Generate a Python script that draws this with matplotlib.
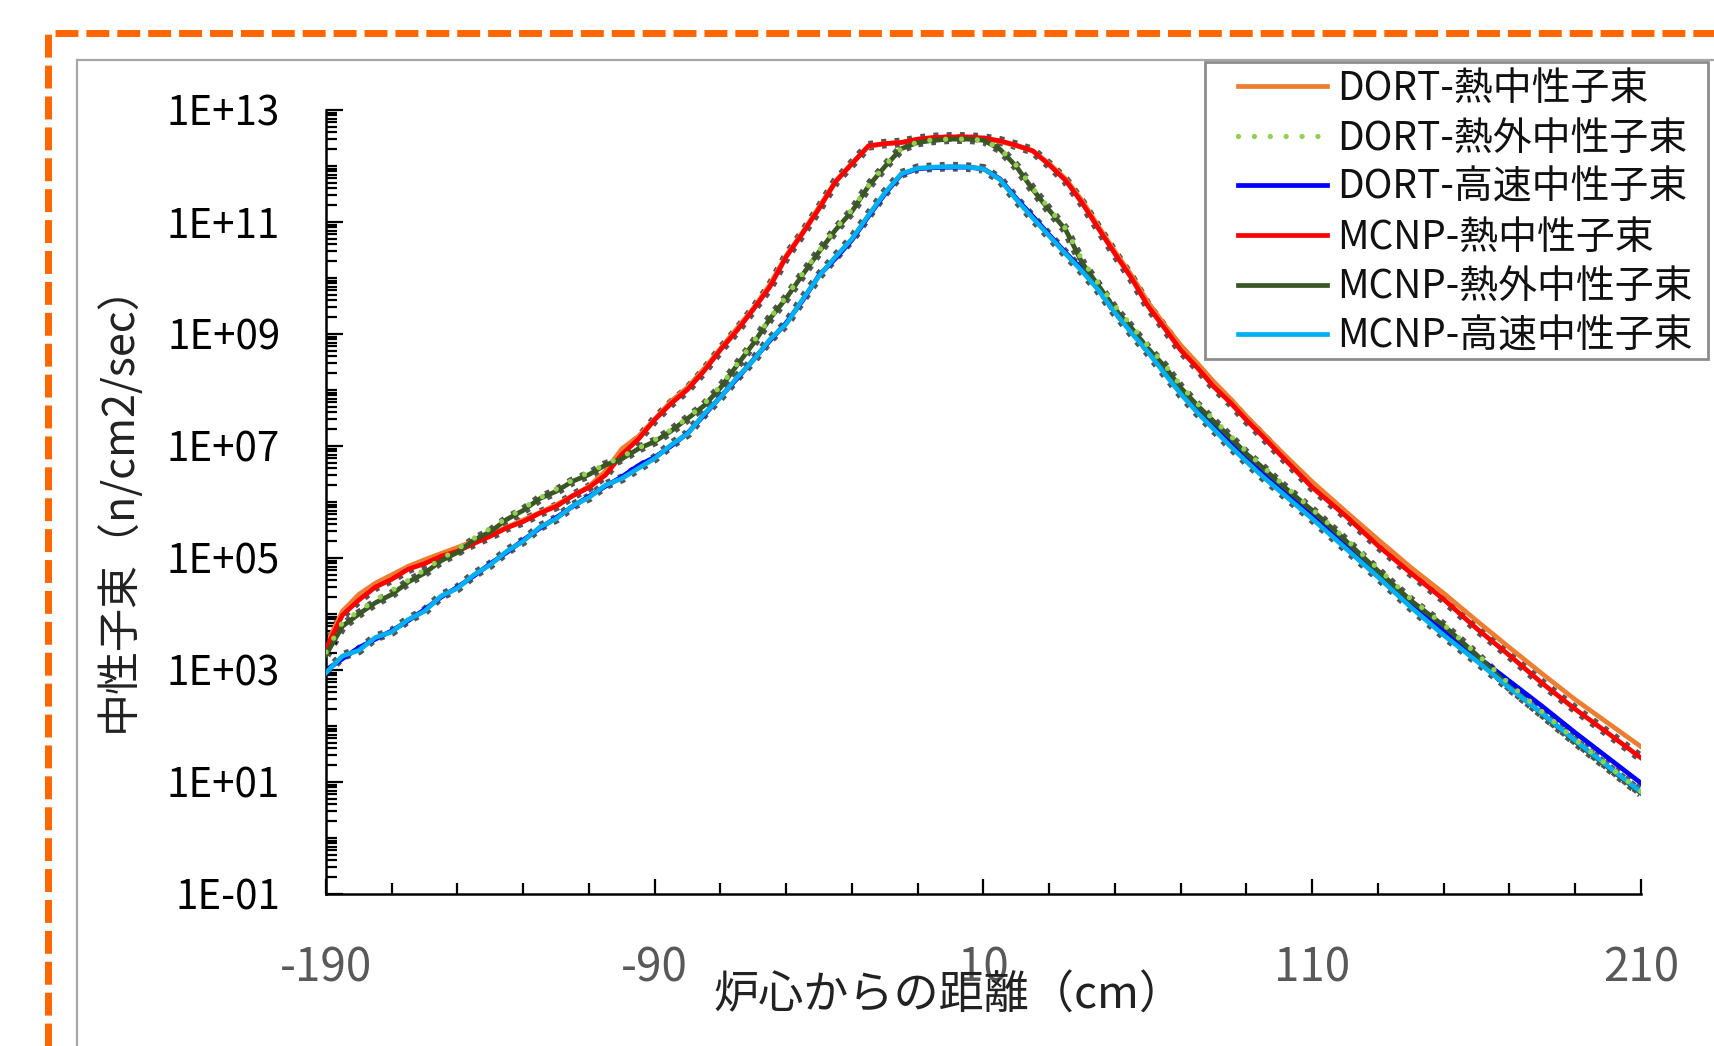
import numpy as np
import matplotlib
matplotlib.use("Agg")
import matplotlib.pyplot as plt
from matplotlib.lines import Line2D
from matplotlib.patches import Rectangle
from matplotlib.ticker import FixedLocator, LogLocator, NullFormatter

plt.rcParams['font.family'] = ['Noto Sans CJK JP', 'DejaVu Sans']
plt.rcParams['axes.unicode_minus'] = False

# distance from core centre (cm)
pos_cm = [-190, -185, -180, -175, -170, -165, -160, -155, -150, -145, -140, -135, -130, -125,
          -120, -115, -110, -105, -100, -95, -90, -85, -80, -75, -70, -65, -60, -55, -50, -45,
          -40, -35, -30, -25, -20, -15, -10, -5, 0, 5, 10, 15, 20, 25, 30, 35, 40, 45, 50, 55,
          60, 65, 70, 75, 80, 85, 90, 95, 100, 110, 120, 130, 140, 150, 160, 170, 180, 190, 200, 210]

# log10 of neutron flux (n/cm2/sec)
dort_thermal = [3.45, 4.05, 4.35, 4.55, 4.70, 4.85, 4.97, 5.08, 5.19, 5.30, 5.42, 5.55, 5.68, 5.81,
                5.95, 6.11, 6.28, 6.55, 6.95, 7.17, 7.48, 7.80, 8.05, 8.38, 8.74, 9.10, 9.46, 9.88, 10.40, 10.82,
                11.27, 11.73, 12.05, 12.35, 12.40, 12.42, 12.47, 12.50, 12.50, 12.50, 12.48, 12.44, 12.36, 12.27, 12.04, 11.77, 11.38, 10.92, 10.47, 10.05,
                9.57, 9.17, 8.80, 8.48, 8.15, 7.85, 7.53, 7.23, 6.93, 6.36, 5.84, 5.33, 4.83, 4.37, 3.88, 3.40, 2.93, 2.47, 2.05, 1.63]
dort_epi = [3.32, 3.85, 4.05, 4.25, 4.42, 4.60, 4.79, 4.98, 5.16, 5.35, 5.53, 5.71, 5.89, 6.07,
            6.23, 6.39, 6.53, 6.67, 6.81, 6.96, 7.11, 7.29, 7.50, 7.75, 8.07, 8.46, 8.86, 9.28, 9.67, 10.08,
            10.49, 10.88, 11.22, 11.65, 12.01, 12.31, 12.43, 12.47, 12.48, 12.48, 12.46, 12.31, 12.01, 11.60, 11.24, 10.88, 10.32, 9.90, 9.50, 9.15,
            8.79, 8.46, 8.08, 7.76, 7.47, 7.19, 6.90, 6.63, 6.37, 5.87, 5.35, 4.81, 4.27, 3.81, 3.29, 2.75, 2.25, 1.76, 1.29, 0.83]
dort_fast = [3.00, 3.20, 3.40, 3.55, 3.70, 3.88, 4.08, 4.30, 4.48, 4.68, 4.90, 5.10, 5.32, 5.53,
             5.72, 5.92, 6.10, 6.28, 6.45, 6.65, 6.80, 7.00, 7.23, 7.55, 7.88, 8.20, 8.54, 8.88, 9.20, 9.60,
             10.05, 10.35, 10.68, 11.10, 11.50, 11.85, 11.95, 11.97, 11.98, 11.98, 11.95, 11.77, 11.42, 11.10, 10.77, 10.45, 10.15, 9.80, 9.40, 9.05,
             8.72, 8.35, 7.97, 7.65, 7.35, 7.05, 6.77, 6.50, 6.25, 5.75, 5.25, 4.70, 4.17, 3.70, 3.25, 2.80, 2.35, 1.88, 1.43, 0.98]
mcnp_thermal = [3.38, 3.98, 4.25, 4.48, 4.62, 4.80, 4.90, 5.03, 5.12, 5.26, 5.39, 5.54, 5.65, 5.80,
                5.92, 6.11, 6.26, 6.48, 6.85, 7.12, 7.47, 7.76, 8.01, 8.34, 8.72, 9.06, 9.44, 9.84, 10.38, 10.80,
                11.24, 11.72, 12.04, 12.36, 12.40, 12.42, 12.48, 12.51, 12.52, 12.52, 12.50, 12.45, 12.37, 12.27, 12.02, 11.74, 11.34, 10.88, 10.43, 10.00,
                9.50, 9.11, 8.71, 8.40, 8.06, 7.78, 7.46, 7.17, 6.86, 6.26, 5.76, 5.22, 4.73, 4.26, 3.74, 3.26, 2.76, 2.30, 1.87, 1.43]
mcnp_epi = [3.27, 3.78, 4.00, 4.20, 4.35, 4.57, 4.73, 4.95, 5.10, 5.32, 5.47, 5.69, 5.85, 6.06,
            6.19, 6.37, 6.49, 6.66, 6.77, 6.95, 7.08, 7.27, 7.49, 7.72, 8.04, 8.44, 8.83, 9.27, 9.64, 10.06,
            10.47, 10.86, 11.19, 11.64, 11.99, 12.31, 12.42, 12.46, 12.48, 12.48, 12.46, 12.30, 11.99, 11.58, 11.21, 10.86, 10.27, 9.86, 9.44, 9.11,
            8.74, 8.43, 8.04, 7.73, 7.44, 7.16, 6.86, 6.61, 6.34, 5.85, 5.32, 4.77, 4.24, 3.79, 3.27, 2.70, 2.21, 1.72, 1.26, 0.80]
mcnp_fast = [2.95, 3.25, 3.35, 3.58, 3.68, 3.90, 4.05, 4.32, 4.46, 4.70, 4.88, 5.12, 5.30, 5.55,
             5.70, 5.93, 6.08, 6.30, 6.42, 6.60, 6.78, 7.02, 7.22, 7.57, 7.87, 8.22, 8.53, 8.90, 9.18, 9.62,
             10.04, 10.38, 10.70, 11.12, 11.52, 11.86, 11.96, 11.98, 11.99, 11.98, 11.95, 11.76, 11.40, 11.07, 10.75, 10.43, 10.12, 9.78, 9.38, 9.02,
             8.68, 8.30, 7.93, 7.60, 7.30, 7.00, 6.72, 6.45, 6.20, 5.70, 5.18, 4.66, 4.12, 3.62, 3.16, 2.68, 2.22, 1.74, 1.28, 0.82]

labels = ["DORT-熱中性子束", "DORT-熱外中性子束", "DORT-高速中性子束",
          "MCNP-熱中性子束", "MCNP-熱外中性子束", "MCNP-高速中性子束"]
x_ticks = [-190, -90, 10, 110, 210]
y_ticks = [1e-1, 1e1, 1e3, 1e5, 1e7, 1e9, 1e11, 1e13]
y_ticklabels = ["1E-01", "1E+01", "1E+03", "1E+05", "1E+07", "1E+09", "1E+11", "1E+13"]

W, H = 1715, 1046
fig = plt.figure(figsize=(W / 100, H / 100), dpi=100)
ax = fig.add_axes([326 / W, 1 - 894 / H, (1641 - 326) / W, (894 - 110) / H])

x = np.array(pos_cm)
def f(v):
    return 10 ** np.array(v)

# grey error-bar like marks under MCNP lines
for s in (mcnp_thermal, mcnp_epi, mcnp_fast):
    ax.plot(x, f(s), color='#555555', lw=7, linestyle=(0, (0.5, 0.85)), zorder=1, label='_nolegend_')

l1, = ax.plot(x, f(dort_thermal), color='#ED7D31', lw=3.4, zorder=2)
l3, = ax.plot(x, f(dort_fast), color='#0000FF', lw=3.4, zorder=2)
l4, = ax.plot(x, f(mcnp_thermal), color='#FF0000', lw=3.4, zorder=3)
l5, = ax.plot(x, f(mcnp_epi), color='#385723', lw=3.4, zorder=3)
l6, = ax.plot(x, f(mcnp_fast), color='#00B0F0', lw=3.4, zorder=3)
l2, = ax.plot(x, f(dort_epi), color='#92D050', lw=3.8, linestyle=(0, (0.01, 3.0)),
              dash_capstyle='round', zorder=4)

ax.set_yscale('log')
ax.set_xlim(-190, 210)
ax.set_ylim(1e-1, 1e13)
ax.yaxis.set_major_locator(FixedLocator(y_ticks))
ax.set_yticklabels(y_ticklabels)
ax.yaxis.set_minor_locator(LogLocator(base=10, subs=np.arange(1, 10), numticks=100))
ax.yaxis.set_minor_formatter(NullFormatter())
ax.set_xticks(x_ticks)
ax.set_xticks(np.arange(-170, 210, 20), minor=True)

for sp in ('top', 'right'):
    ax.spines[sp].set_visible(False)
for sp in ('left', 'bottom'):
    ax.spines[sp].set_linewidth(1.8)

ax.tick_params(axis='y', which='major', direction='in', length=12, width=1.6,
               labelsize=29, pad=33, labelcolor='black')
ax.tick_params(axis='y', which='minor', direction='in', length=8, width=1.6)
ax.tick_params(axis='x', which='major', direction='in', length=11, width=1.6,
               labelsize=33, pad=36, labelcolor='#595959')
ax.tick_params(axis='x', which='minor', direction='in', length=8, width=1.6)

fig.text(949 / W, 1 - 995 / H, "炉心からの距離（cm）", fontsize=32.5, ha='center', va='center', color='#222222')
fig.text(118 / W, 1 - 497 / H, "中性子束（n/cm2/sec）", fontsize=31, ha='center', va='center',
         rotation=90, color='#222222')

# legend frame drawn separately, legend entries placed inside
fig.add_artist(Rectangle((1205 / W, 1 - 359 / H), 503 / W, 297 / H, transform=fig.transFigure,
                         fill=False, edgecolor='#8C8C8C', lw=2))
leg = fig.legend([l1, l2, l3, l4, l5, l6], labels, loc='upper left',
                 bbox_to_anchor=(1238 / W, 1 - 69 / H), bbox_transform=fig.transFigure,
                 fontsize=28, frameon=False, borderaxespad=0, borderpad=0,
                 handlelength=2.3, handletextpad=0.26, labelspacing=0.245)
for t in leg.get_texts():
    t.set_color('#111111')

# chart-area frame (grey) and orange dashed outer frame
fig.add_artist(Line2D([77 / W, 77 / W], [0, 1 - 60 / H], color='#A6A6A6', lw=1.6))
fig.add_artist(Line2D([77 / W, 1], [1 - 60 / H, 1 - 60 / H], color='#A6A6A6', lw=1.6))
fig.add_artist(Line2D([48 / W, 48 / W], [0, 1 - 33 / H], color='#FF6600', lw=5,
                      linestyle=(0, (3.3, 1.15))))
fig.add_artist(Line2D([55 / W, 1], [1 - 33 / H, 1 - 33 / H], color='#FF6600', lw=5,
                      linestyle=(0, (3.3, 1.15))))

fig.savefig("out.png", dpi=100)
